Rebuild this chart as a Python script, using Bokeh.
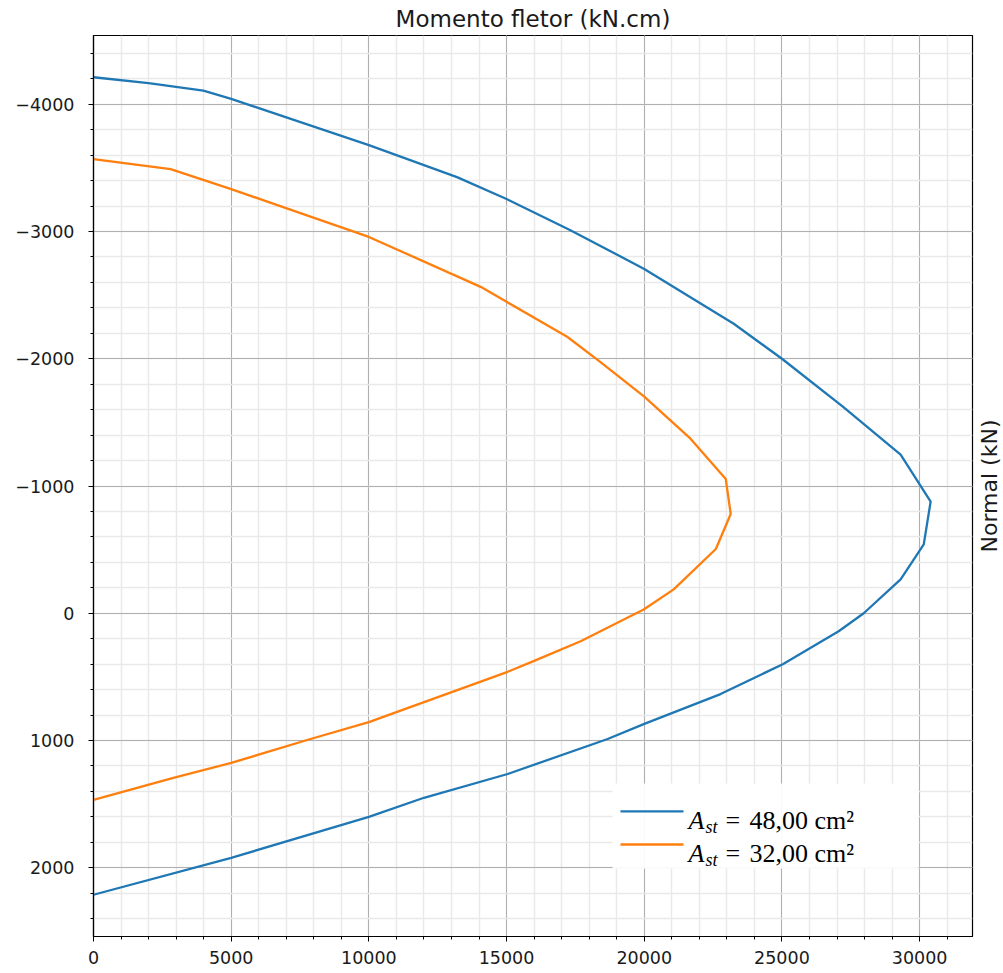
import math
from bokeh.plotting import figure
from bokeh.layouts import row
from bokeh.core.properties import value
from bokeh.models import (Range1d, SingleIntervalTicker, CustomJSTickFormatter,
                          BoxAnnotation, Label, ColumnDataSource)
from bokeh.embed import file_html
from bokeh.resources import INLINE

# Interaction diagram: bending moment (kN.cm) vs axial force (kN)
moment_48 = [0, 2000, 3990, 5000, 10000, 13200, 15000, 17300, 20000, 23250, 25000,
             27200, 29310, 30400, 30150, 29310, 27970, 27060, 25030, 22770, 19980,
             18670, 15040, 12000, 10000, 5000, 0]
normal_48 = [-4212, -4165, -4107, -4042, -3678, -3427, -3255, -3012, -2706, -2275, -2000,
             -1625, -1247, -878, -541, -267, 0, 141, 400, 635, 871,
             988, 1263, 1450, 1600, 1922, 2212]

moment_32 = [0, 2800, 5000, 10000, 14060, 15000, 17200, 18400, 20000, 21680, 22960,
             23140, 22600, 21070, 19980, 17690, 15980, 15040, 10800, 10000, 7880,
             5000, 2900, 0]
normal_32 = [-3569, -3490, -3333, -2957, -2565, -2447, -2173, -1976, -1702, -1372, -1055,
             -780, -505, -188, -30, 220, 376, 460, 792, 855, 988,
             1176, 1294, 1467]

series_labels = ["48,00 cm²", "32,00 cm²"]
series_colors = ["#1f77b4", "#ff7f0e"]

x_ticks_step = 5000
y_ticks_step = 1000

p = figure(width=974, height=973, output_backend="svg", toolbar_location=None,
           x_range=Range1d(0, 31920), y_range=Range1d(2540, -4540),
           x_axis_location="below", y_axis_location="left",
           min_border_left=93, min_border_right=2, min_border_top=35, min_border_bottom=37)

p.background_fill_color = "white"
p.border_fill_color = "white"
p.outline_line_color = "black"
p.outline_line_width = 1.2

# title sits on top as the x quantity label
p.title.text = "Momento fletor (kN.cm)"
p.title.align = "center"
p.title.text_font = "DejaVu Sans"
p.title.text_font_style = "normal"
p.title.text_font_size = "23px"
p.title.text_color = "#1a1a1a"
p.title.standoff = 7

minus_fmt = CustomJSTickFormatter(code="return tick < 0 ? '\u2212' + (-tick) : '' + tick;")

xax = p.xaxis[0]
xax.ticker = SingleIntervalTicker(interval=x_ticks_step, num_minor_ticks=5)
yax = p.yaxis[0]
yax.ticker = SingleIntervalTicker(interval=y_ticks_step, num_minor_ticks=5)
yax.formatter = minus_fmt

for ax in (xax, yax):
    ax.axis_line_color = "black"
    ax.axis_line_width = 1.2
    ax.major_tick_line_color = "black"
    ax.minor_tick_line_color = "black"
    ax.major_tick_out = 5
    ax.major_tick_in = 0
    ax.minor_tick_out = 3
    ax.minor_tick_in = 0
    ax.major_label_text_font = "DejaVu Sans"
    ax.major_label_text_font_size = "17.5px"
    ax.major_label_text_color = "#1a1a1a"
xax.major_label_standoff = 9
yax.major_label_standoff = 14

for g in p.grid:
    g.grid_line_color = "#b0b0b0"
    g.grid_line_width = 1
    g.minor_grid_line_color = "#e9e9e9"
    g.minor_grid_line_width = 1.5
p.xgrid.ticker = xax.ticker
p.ygrid.ticker = yax.ticker

src48 = ColumnDataSource(dict(x=moment_48, y=normal_48))
src32 = ColumnDataSource(dict(x=moment_32, y=normal_32))
p.line("x", "y", source=src48, line_color=series_colors[0], line_width=2.3)
p.line("x", "y", source=src32, line_color=series_colors[1], line_width=2.3)

# legend drawn by hand so the label can use an italic symbol with subscript
p.add_layout(BoxAnnotation(left=18847, right=29958, top=1337, bottom=2005,
                           fill_color="white", fill_alpha=0.92, line_color=None))

legend_rows = [(1557, 1628, 1683), (1817, 1887, 1942)]
for (y_line, y_base, y_sub), text, color in zip(legend_rows, series_labels, series_colors):
    sw = p.line([19137, 21425], [y_line, y_line], line_color=color, line_width=2.3)
    sw.level = "overlay"
    p.add_layout(Label(x=21607, y=y_base, text="A", text_font="Liberation Serif",
                       text_font_style="italic", text_font_size="26px",
                       text_color="black", text_baseline="alphabetic"))
    p.add_layout(Label(x=22220, y=y_sub, text="st", text_font="Liberation Serif",
                       text_font_style="italic", text_font_size="18px",
                       text_color="black", text_baseline="alphabetic"))
    p.add_layout(Label(x=22950, y=y_base, text="=", text_font="Liberation Serif",
                       text_font_size="26px", text_color="black",
                       text_baseline="alphabetic"))
    p.add_layout(Label(x=23822, y=y_base, text=text, text_font="Liberation Serif",
                       text_font_size="26px", text_color="black",
                       text_baseline="alphabetic"))

# narrow strip on the right carrying the y quantity label, reading upwards
side = figure(width=29, height=973, output_backend="svg", toolbar_location=None,
              x_range=Range1d(0, 1), y_range=Range1d(0, 1),
              x_axis_location=None, y_axis_location=None,
              min_border_left=0, min_border_right=0, min_border_top=35, min_border_bottom=37)
side.outline_line_color = None
side.background_fill_color = "white"
side.border_fill_color = "white"
side.xgrid.visible = False
side.ygrid.visible = False
side.text(x=[0.5], y=[0.5], text=["Normal (kN)"], angle=math.pi / 2,
          text_align="center", text_baseline="middle",
          text_font=value("DejaVu Sans"), text_font_size="22px", text_color="#1a1a1a")

layout = row(p, side, spacing=0)
open("out.html", "w").write(file_html(layout, INLINE))
